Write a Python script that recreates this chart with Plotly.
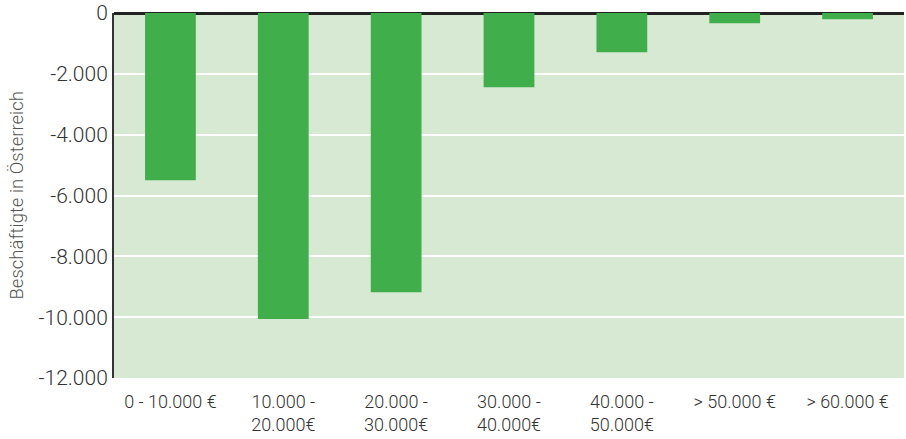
import plotly.graph_objects as go

# Income bands and change in employment (Austria)
categories = ["0 - 10.000 €", "10.000 -<br>20.000€", "20.000 -<br>30.000€",
              "30.000 -<br>40.000€", "40.000 -<br>50.000€", "> 50.000 €", "> 60.000 €"]
values = [-5500, -10060, -9180, -2440, -1290, -335, -205]

tick_vals = [0, -2000, -4000, -6000, -8000, -10000, -12000]
tick_text = ["0", "-2.000", "-4.000", "-6.000", "-8.000", "-10.000", "-12.000"]
y_title = "Beschäftigte in Österreich"

font_family = "Roboto, 'DejaVu Sans', sans-serif"

fig = go.Figure(go.Bar(
    x=categories,
    y=values,
    marker=dict(color="#40ae4b", line=dict(width=0)),
    width=0.45,
    hoverinfo="x+y",
))

fig.update_layout(
    width=906,
    height=439,
    margin=dict(l=114, r=2, t=13, b=61),
    paper_bgcolor="white",
    plot_bgcolor="#d8e9d3",
    showlegend=False,
    font=dict(family=font_family, color="#333333", weight=300),
)

fig.update_xaxes(
    type="category",
    automargin=False,
    showgrid=False,
    showline=False,
    zeroline=False,
    ticks="",
    tickfont=dict(size=18, color="#333333", weight=300),
    ticklabelstandoff=11,
)

fig.update_yaxes(
    automargin=False,
    range=[-12000, 0],
    tickvals=tick_vals,
    ticktext=tick_text,
    showgrid=True,
    gridcolor="white",
    gridwidth=2,
    zeroline=True,
    zerolinecolor="#222222",
    zerolinewidth=3,
    showline=True,
    linecolor="#333333",
    linewidth=2,
    ticks="",
    tickfont=dict(size=21, color="#333333", weight=300),
)

# Vertical axis title placed in the left margin
fig.add_annotation(
    text=y_title,
    textangle=-90,
    xref="paper", yref="paper",
    x=0, y=0.5,
    xanchor="center", yanchor="middle",
    xshift=-98,
    showarrow=False,
    font=dict(size=18.5, color="#555555", weight=300),
)

fig.write_html("out.html")
